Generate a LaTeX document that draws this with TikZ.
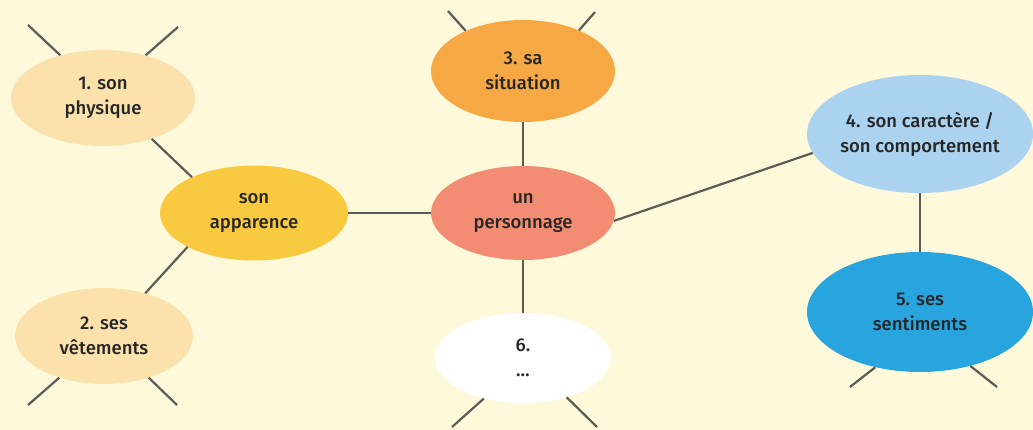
\documentclass[tikz,border=0pt]{standalone}
\usepackage{fontspec}
\setsansfont{Fira Sans}[UprightFont=* Medium]
\usetikzlibrary{shapes.geometric}
\definecolor{bgcream}{HTML}{FEF9DA}
\definecolor{paleorange}{HTML}{FBE1AC}
\definecolor{sunyellow}{HTML}{F9C940}
\definecolor{orangebox}{HTML}{F5A843}
\definecolor{salmon}{HTML}{F28D73}
\definecolor{paleblue}{HTML}{ABD3F0}
\definecolor{skyblue}{HTML}{28A5DE}
\definecolor{linkgray}{HTML}{5C5C52}
\tikzset{
  bulle/.style={ellipse, inner sep=0pt, align=center, text=black!85,
    font=\sffamily\fontsize{18.5}{25}\selectfont},
  link/.style={draw=linkgray, line width=2.2pt}
}
\begin{document}
\begin{tikzpicture}[x=1pt, y=-1pt]
  %% background
  \fill[bgcream] (0,0) rectangle (1033,430);
  \useasboundingbox (0,0) rectangle (1033,430);

  %% bubbles
  \node[bulle, fill=paleorange, minimum width=184, minimum height=96] (phys) at (103,98) {1. son\\physique};
  \node[bulle, fill=sunyellow, minimum width=188, minimum height=95] (appa) at (254,213) {son\\apparence};
  \node[bulle, fill=paleorange, minimum width=178, minimum height=96] (vete) at (104,336) {2. ses\\vêtements};
  \node[bulle, fill=orangebox, minimum width=184, minimum height=102] (situ) at (523,71) {3. sa\\situation};
  \node[bulle, fill=salmon, minimum width=184, minimum height=94] (perso) at (523,213) {un\\personnage};
  \node[bulle, fill=white, minimum width=176, minimum height=90] (autre) at (523,358) {6.\\\ldots};
  \node[bulle, fill=paleblue, minimum width=226, minimum height=118] (cara) at (920,134) {4. son caractère /\\son comportement};
  \node[bulle, fill=skyblue, minimum width=226, minimum height=120] (senti) at (920,312) {5. ses\\sentiments};

  %% links
  \draw[link] (phys.320) -- (appa.150);
  \draw[link] (vete.46) -- (appa.207);
  \draw[link] (appa) -- (perso);
  \draw[link] (situ) -- (perso);
  \draw[link] (perso) -- (autre);
  \draw[link] (perso.355) -- (cara.190);
  \draw[link] (cara) -- (senti);

  %% open ends
  \foreach \n/\a/\x/\y in {phys/135/28/25, phys/45/178/27,
      vete/223/28/405, vete/317/177/405,
      situ/145/448/11, situ/36/595/12,
      autre/226/452/427, autre/318/597/427,
      senti/231/850/387, senti/313/997/387} {
    \coordinate (\n-\a) at (\x,\y);
    \draw[link] (\n.\a) -- (\n-\a);
  }
\end{tikzpicture}
\end{document}
